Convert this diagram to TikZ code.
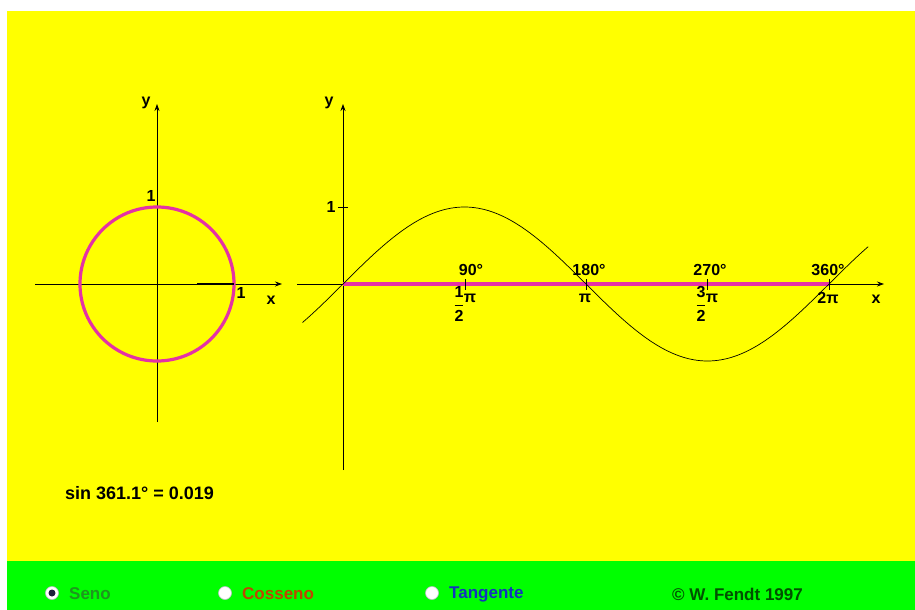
\documentclass[tikz,border=0pt]{standalone}
\usepackage{amsmath}
\usepackage{fontspec}
\setmainfont{Liberation Sans}
\usetikzlibrary{arrows.meta}
\definecolor{bgyellow}{RGB}{255,255,0}
\definecolor{bggreen}{RGB}{0,255,0}
\definecolor{magline}{RGB}{228,50,165}
\definecolor{senocol}{RGB}{30,150,30}
\definecolor{cossenocol}{RGB}{190,70,0}
\definecolor{tangcol}{RGB}{20,50,190}
\definecolor{fendtcol}{RGB}{0,80,0}
\definecolor{radioedge}{RGB}{190,190,200}
\definecolor{radiodot}{RGB}{30,30,60}
\begin{document}
\begin{tikzpicture}[x=1pt,y=-1pt,
  axis/.style={line width=0.8pt,-{Stealth[length=7pt,width=5pt]}},
  lbl/.style={font=\fontsize{16}{16}\selectfont\bfseries,inner sep=0pt},
  big/.style={font=\fontsize{18}{18}\selectfont\bfseries,inner sep=0pt,anchor=west},
  bar/.style={font=\fontsize{17}{17}\selectfont\bfseries,inner sep=0pt,anchor=west},
  tick/.style={line width=0.6pt},
  radio/.style={fill=white,draw=radioedge,line width=0.6pt,minimum size=13pt,circle,inner sep=0pt}]
\useasboundingbox (0,0) rectangle (915,610);
\fill[white] (0,0) rectangle (915,610);
\fill[bgyellow] (7,11) rectangle (915,561);
\fill[bggreen] (7,561) rectangle (915,610);
% unit circle
\coordinate (C) at (157,284);
\coordinate (cxs) at (35,284);
\coordinate (cxe) at (282,284);
\coordinate (cys) at (157,422);
\coordinate (cye) at (157,104);
\draw[axis] (cxs) -- (cxe);
\draw[axis] (cys) -- (cye);
\draw[magline,line width=3.2pt] (C) circle (77pt);
\coordinate (ra) at (197,284);
\coordinate (rb) at (234,284);
\draw[line width=2pt] (ra) -- (rb);
\node[lbl] (cy) at (146,103) {y};
\node[lbl] (c1t) at (151,196) {1};
\node[lbl] (c1r) at (241,293) {1};
\node[lbl] (cx) at (271,300) {x};
% graph
\coordinate (O) at (343,284);
\coordinate (gxs) at (297,284);
\coordinate (gxe) at (884,284);
\coordinate (gys) at (343,470);
\coordinate (gye) at (343,104);
\coordinate (e360) at (829,284);
\draw[axis] (gxs) -- (gxe);
\draw[axis] (gys) -- (gye);
\draw[magline,line width=4.5pt] (O) -- (e360);
\foreach \t in {465,586,707,829}{\draw[tick] (\t,279) -- (\t,290);}
\draw[tick] (338,207) -- (348,207);
\draw[line width=0.7pt] plot[domain=-30:389,samples=200] ({343+1.35*\x},{284-77*sin(\x)});
\node[lbl] (gy) at (329,103) {y};
\node[lbl] (g1) at (331,207) {1};
\node[lbl] (gx) at (876,299) {x};
\node[lbl] (d90) at (471,270) {90°};
\node[lbl] (d180) at (589,270) {180°};
\node[lbl] (d270) at (710,270) {270°};
\node[lbl] (d360) at (828,270) {360°};
\node[lbl] (f90) at (459,304) {$\dfrac{\text{\bfseries 1}}{\text{\bfseries 2}}$};
\node[lbl] (p90) at (470,298) {π};
\node[lbl] (p180) at (585,298) {π};
\node[lbl] (f270) at (701,304) {$\dfrac{\text{\bfseries 3}}{\text{\bfseries 2}}$};
\node[lbl] (p270) at (712,298) {π};
\node[lbl] (p360) at (828,298) {2π};
% value
\node[big] (val) at (65,493) {sin 361.1° = 0.019};
% bottom bar
\node[radio] (r1) at (52,593) {};
\fill[radiodot] (r1) circle (3.5pt);
\node[radio] (r2) at (225,593) {};
\node[radio] (r3) at (432,593) {};
\node[bar,text=senocol] (t1) at (69,594) {Seno};
\node[bar,text=cossenocol] (t2) at (242,594) {Cosseno};
\node[bar,text=tangcol] (t3) at (449,594) {Tangente};
\node[bar,text=fendtcol] (t4) at (672,594) {© W. Fendt 1997};
\end{tikzpicture}
\end{document}
